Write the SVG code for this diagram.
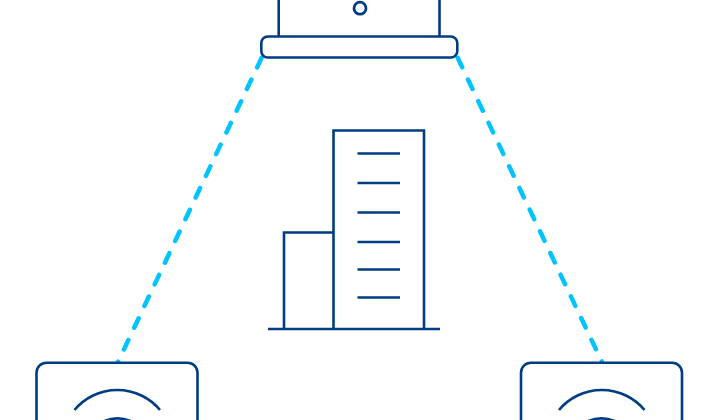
<svg xmlns="http://www.w3.org/2000/svg" width="718" height="420" viewBox="0 0 718 420">
<style>
.s{fill:none;stroke:#003d82;stroke-width:2.6}
.d{fill:none;stroke:#00c4ff;stroke-width:4.500;stroke-dasharray:10.500 13.500;stroke-linecap:round}
</style>
<rect width="718" height="420" fill="#fff"/>
<g id="connectors">
<path class="d" d="M261.600 57.850L118 362"/>
<path class="d" d="M457.700 57.850L602 362"/>
</g>
<g id="laptop">
<path class="s" d="M278.700 0V36.500M439.500 0V36.500"/>
<circle class="s" cx="360" cy="8.200" r="6" style="stroke-width:2.800"/>
<rect class="s" x="261.300" y="36.500" width="196" height="21" rx="6.500" style="fill:#fff"/>
</g>
<g id="building">
<path class="s" d="M268 329H440M284 329V232.500H333.500M333.500 329V130.500H424V329"/>
<path class="s" d="M357.500 153.500H400M357.500 183H400M357.500 212.500H400M357.500 242H400M357.500 269.500H400M357.500 297.500H400"/>
</g>
<g id="device-left">
<rect class="s" x="36.500" y="362.700" width="161" height="80" rx="10" style="fill:#fff"/>
<path class="s" d="M74.500 410A55.700 55.700 0 0 1 160 410"/>
<path class="s" d="M104.500 421A35 35 0 0 1 130.500 421"/>
</g>
<g id="device-right">
<rect class="s" x="521" y="362.700" width="161" height="80" rx="10" style="fill:#fff"/>
<path class="s" d="M559 410A55.700 55.700 0 0 1 644.500 410"/>
<path class="s" d="M588.500 421A35 35 0 0 1 614.500 421"/>
</g>
</svg>
